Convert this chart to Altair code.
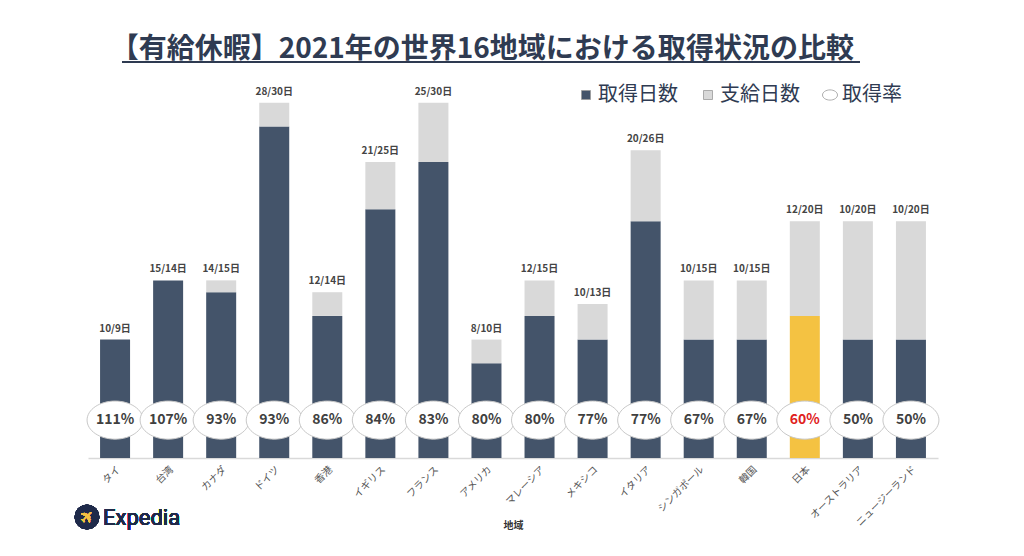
import altair as alt
import pandas as pd

# 地域ごとの取得日数・支給日数・取得率
regions = ["タイ", "台湾", "カナダ", "ドイツ", "香港", "イギリス", "フランス", "アメリカ",
           "マレーシア", "メキシコ", "イタリア", "シンガポール", "韓国", "日本", "オーストラリア", "ニュージーランド"]
taken = [10, 15, 14, 28, 12, 21, 25, 8, 12, 10, 20, 10, 10, 12, 10, 10]
given = [9, 14, 15, 30, 14, 25, 30, 10, 15, 13, 26, 15, 15, 20, 20, 20]
rates = ["111%", "107%", "93%", "93%", "86%", "84%", "83%", "80%",
         "80%", "77%", "77%", "67%", "67%", "60%", "50%", "50%"]

NAVY = "#44546a"
GRAY = "#d9d9d9"
GOLD = "#f4c242"
SERIES = ["取得日数", "支給日数", "取得率"]
ELLIPSE = "M -1 0 A 1 0.68 0 1 0 1 0 A 1 0.68 0 1 0 -1 0 Z"
SQUARE = "M -0.6 -0.6 H 0.6 V 0.6 H -0.6 Z"

rows = []
for r, t, g in zip(regions, taken, given):
    rows.append({"地域": r, "系列": "取得日数", "日数": t})
    rows.append({"地域": r, "系列": "支給日数", "日数": max(g - t, 0)})
bars_df = pd.DataFrame(rows)
bars_df["順"] = bars_df["系列"].map({"取得日数": 0, "支給日数": 1})

top_df = pd.DataFrame({
    "地域": regions,
    "上端": [max(t, g) for t, g in zip(taken, given)],
    "ラベル": [f"{t}/{g}日" for t, g in zip(taken, given)],
})
rate_df = pd.DataFrame({"地域": regions, "取得率": rates, "系列": "取得率"})

x = alt.X("地域:N", sort=regions, title="地域",
          scale=alt.Scale(paddingInner=0.43, paddingOuter=0.225),
          axis=alt.Axis(labelAngle=315, labelAlign="right", labelBaseline="top",
                        labelFontSize=10, labelColor="#555555", labelPadding=6,
                        ticks=False, domainColor="#d9d9d9", domainWidth=1.5,
                        titleFontSize=10, titleColor="#333333", titleY=62))
yscale = alt.Scale(domain=[0, 31.5], nice=False)

color_scale = alt.Scale(domain=SERIES, range=[NAVY, GRAY, "white"])
legend = alt.Legend(orient="none", legendX=488, legendY=0, direction="horizontal",
                    title=None, labelFontSize=20, labelColor="#2f3b52",
                    symbolSize=225, symbolStrokeColor="#9a9a9a", symbolStrokeWidth=0.8,
                    columnPadding=20, labelOffset=2)

bars = alt.Chart(bars_df).mark_bar(size=30).encode(
    x=x,
    y=alt.Y("日数:Q", stack="zero", scale=yscale, axis=None),
    order=alt.Order("順:Q"),
    color=alt.condition("datum['地域'] === '日本' && datum['系列'] === '取得日数'",
                        alt.value(GOLD),
                        alt.Color("系列:N", scale=color_scale, legend=legend)),
)

tops = alt.Chart(top_df).mark_text(dy=-11, fontSize=10, fontWeight="bold",
                                   color="#444444").encode(
    x=alt.X("地域:N", sort=regions),
    y=alt.Y("上端:Q", scale=yscale),
    text="ラベル:N",
)

ellipses = alt.Chart(rate_df).mark_point(filled=True, size=3136, stroke="#c8c8c8",
                                         strokeWidth=1, opacity=1).encode(
    x=alt.X("地域:N", sort=regions),
    y=alt.datum(3.2, scale=yscale),
    color=alt.Color("系列:N", scale=color_scale, legend=legend),
    shape=alt.Shape("系列:N", scale=alt.Scale(domain=SERIES, range=[SQUARE, SQUARE, ELLIPSE]),
                    legend=legend),
)

rate_text = alt.Chart(rate_df).mark_text(fontSize=14, fontWeight="bold").encode(
    x=alt.X("地域:N", sort=regions),
    y=alt.datum(3.2, scale=yscale),
    text="取得率:N",
    color=alt.condition("datum['地域'] === '日本'", alt.value("#e02020"), alt.value("#404040")),
)

underline = alt.Chart(top_df).mark_rule(color="#2f3b52", strokeWidth=1.5).encode(
    x=alt.value(34), x2=alt.value(772), y=alt.value(-23),
)

logo_icon = alt.Chart(top_df).mark_circle(size=600, color="#1f2a4a", opacity=1).encode(
    x=alt.value(-1), y=alt.value(432),
)
logo_plane = alt.Chart(top_df).mark_text(text="✈", fontSize=17, color="#f4c242", angle=315).encode(
    x=alt.value(-1), y=alt.value(433),
)
logo_text = alt.Chart(top_df).mark_text(text="Expedia", fontSize=22, color="#1f2a4a",
                                        align="left", font="Roboto").encode(
    x=alt.value(15), y=alt.value(433),
)

chart = alt.layer(bars, tops, ellipses, rate_text, underline, logo_icon, logo_plane, logo_text).properties(
    width=850, height=373,
    autosize=alt.AutoSizeParams(type="none"),
    padding={"left": 80, "top": 77, "right": 60, "bottom": 80},
    title=alt.TitleParams("【有給休暇】2021年の世界16地域における取得状況の比較",
                          fontSize=28, fontWeight="bold", color="#2f3b52",
                          font="Noto Sans CJK JP", anchor="start", offset=-3, dx=36),
).configure(font="Noto Sans CJK JP").configure_view(strokeWidth=0)

chart.save("out.html", embed_options={"renderer": "svg", "actions": False})
